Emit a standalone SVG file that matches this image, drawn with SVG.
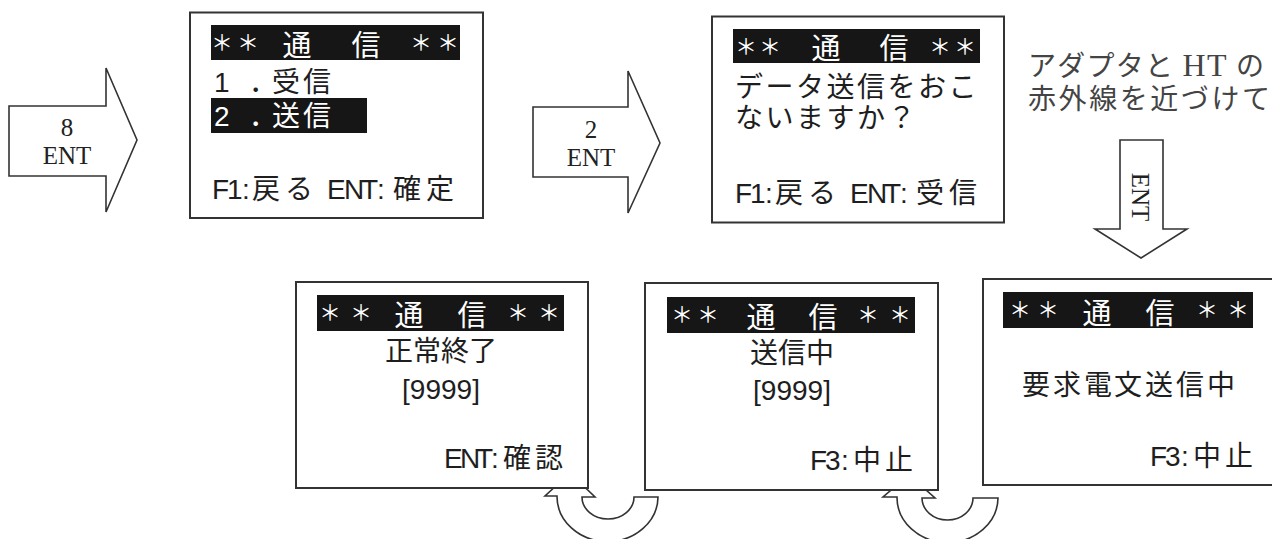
<svg xmlns="http://www.w3.org/2000/svg" width="1272" height="539" viewBox="0 0 1272 539">
<style>
.box{fill:#fff;stroke:#333;stroke-width:2}
.bar{fill:#161616}
.t{font-family:"Liberation Sans","Noto Sans CJK JP",sans-serif;font-size:28px;fill:#1e1e1e}
.tt{font-family:"Liberation Sans","Noto Sans CJK JP",sans-serif;font-size:29px;fill:#fff;text-anchor:middle}
.ast{font-family:"Liberation Sans","Noto Sans CJK JP",sans-serif;font-size:22px;fill:#fff;text-anchor:middle}
.w{fill:#fff}
.mid{text-anchor:middle}
.blk{fill:#fff;stroke:#333;stroke-width:1.6;stroke-linejoin:miter}
.ser{font-family:"Liberation Serif","Noto Sans CJK JP",serif;font-size:25px;fill:#222;text-anchor:middle}
.side{font-family:"Liberation Serif","Noto Sans CJK JP",serif;font-size:28px;fill:#444}
</style>
<rect width="1272" height="539" fill="#fff"/>

<g id="connectors">
  <g id="arrow-8-ent">
    <polygon class="blk" points="9,106 106,106 106,68 137,140 106,212 106,176 9,176"/>
    <text class="ser"><tspan x="67" y="136">8</tspan><tspan x="67" y="164">ENT</tspan></text>
  </g>
  <g id="arrow-2-ent">
    <polygon class="blk" points="533,107 628,107 628,71 660,143 628,213 628,177 533,177"/>
    <text class="ser"><tspan x="591" y="138">2</tspan><tspan x="591" y="166">ENT</tspan></text>
  </g>
  <g id="arrow-down-ent">
    <polygon class="blk" points="1120,140 1163,140 1163,229 1187,229 1141,258 1095,229 1120,229"/>
    <text class="ser" transform="translate(1141,197) rotate(90)" y="9" font-size="28">ENT</text>
  </g>
  <g id="uturn-1">
    <path class="blk" d="M658,497 L634,497 A26,22 0 0 1 582,497 L595,497 L570,473 L545,496 L557,496 A50.5,45 0 0 0 658,497 Z"/>
  </g>
  <g id="uturn-2">
    <path class="blk" d="M998,498 L973,498 A25.5,22 0 0 1 922,498 L935,498 L909,475 L883,497 L897,497 A50.5,45 0 0 0 998,498 Z"/>
  </g>
</g>

<g id="screen-menu">
  <rect class="box" x="190" y="12.5" width="293" height="205.5"/>
  <rect class="bar" x="211" y="25" width="249" height="35"/>
  <text class="ast" y="50"><tspan x="222">＊</tspan><tspan x="248">＊</tspan><tspan x="421">＊</tspan><tspan x="448">＊</tspan></text>
  <text class="tt" y="56"><tspan x="297">通</tspan><tspan x="366">信</tspan></text>
  <text class="t" y="92" x="214 249 272 303">1．受信</text>
  <rect class="bar" x="211" y="98" width="156" height="35"/>
  <text class="t w" y="126" x="214 249 272 303">2．送信</text>
  <text class="t" y="199" x="212 227 242 252 285 318 327 344 361 377 393 426">F1:戻る ENT:確定</text>
</g>

<g id="screen-confirm">
  <rect class="box" x="712" y="16.5" width="292" height="206"/>
  <rect class="bar" x="733" y="29" width="247" height="34"/>
  <text class="ast" y="53.5"><tspan x="746">＊</tspan><tspan x="770">＊</tspan><tspan x="940">＊</tspan><tspan x="965">＊</tspan></text>
  <text class="tt" y="59"><tspan x="826">通</tspan><tspan x="894">信</tspan></text>
  <text class="t" y="97" x="735 765.5 796 826.5 857 887.5 918 948.5">データ送信をおこ</text>
  <text class="t" y="128" x="735 765.5 796 826.5 857 887.5">ないますか？</text>
  <text class="t" y="203" x="735 750 765 775 808 841 850 867 884 900 916 949">F1:戻る ENT:受信</text>
</g>

<g id="note">
  <text class="side" x="1028" y="76" textLength="236" lengthAdjust="spacing">アダプタと <tspan font-size="32">HT</tspan> の</text>
  <text class="side" x="1028" y="109" textLength="242" lengthAdjust="spacing">赤外線を近づけて</text>
</g>

<g id="screen-request">
  <rect class="box" x="983" y="279" width="310" height="206"/>
  <rect class="bar" x="1003" y="292" width="250" height="36"/>
  <text class="ast" y="317"><tspan x="1020">＊</tspan><tspan x="1048">＊</tspan><tspan x="1207">＊</tspan><tspan x="1238">＊</tspan></text>
  <text class="tt" y="324"><tspan x="1097">通</tspan><tspan x="1160">信</tspan></text>
  <text class="t" y="395" x="1022 1053 1084 1114 1145 1176 1207">要求電文送信中</text>
  <text class="t" y="466" x="1150 1165 1181 1193 1225">F3:中止</text>
</g>

<g id="screen-sending">
  <rect class="box" x="645" y="283" width="293" height="207"/>
  <rect class="bar" x="667" y="297" width="248" height="36"/>
  <text class="ast" y="322"><tspan x="682">＊</tspan><tspan x="708">＊</tspan><tspan x="868">＊</tspan><tspan x="900">＊</tspan></text>
  <text class="tt" y="328"><tspan x="761">通</tspan><tspan x="823">信</tspan></text>
  <text class="t mid" x="792" y="363">送信中</text>
  <text class="t mid" x="792" y="400">[9999]</text>
  <text class="t" y="470" x="810 825 841 853 885">F3:中止</text>
</g>

<g id="screen-done">
  <rect class="box" x="296" y="282" width="292" height="206"/>
  <rect class="bar" x="317" y="295" width="247" height="36"/>
  <text class="ast" y="320"><tspan x="330">＊</tspan><tspan x="361">＊</tspan><tspan x="518">＊</tspan><tspan x="549">＊</tspan></text>
  <text class="tt" y="326"><tspan x="409">通</tspan><tspan x="472">信</tspan></text>
  <text class="t mid" x="441" y="361">正常終了</text>
  <text class="t mid" x="441" y="399">[9999]</text>
  <text class="t" y="468" x="444 460 476 491 503 535">ENT:確認</text>
</g>
</svg>
